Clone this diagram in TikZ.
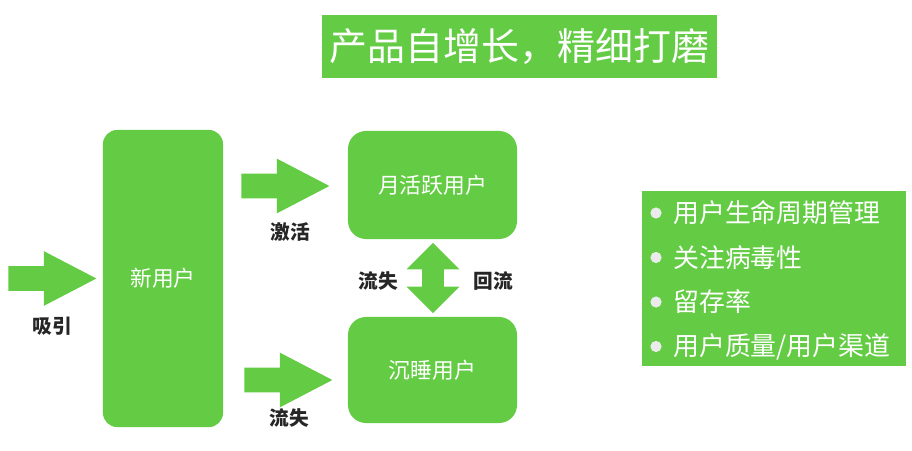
\documentclass[tikz,border=0pt]{standalone}
\usepackage{fontspec}
\setmainfont{Noto Sans CJK SC}
\usepackage{tikz}
\usetikzlibrary{shapes.arrows}
\definecolor{appgreen}{RGB}{99,204,68}

\begin{document}
\begin{tikzpicture}[
    x=0.025cm, y=-0.025cm,
    greenbox/.style={rectangle, fill=appgreen, draw=none, text=white, inner sep=0pt,
      align=center, font=\fontsize{15.5}{18}\selectfont},
    userbox/.style={greenbox, rounded corners=0.35cm},
    blockarrow/.style={single arrow, fill=appgreen, draw=none, anchor=tip,
      inner xsep=0pt, inner ysep=0.3cm, minimum height=2.2cm,
      single arrow head extend=0.375cm, single arrow tip angle=55,
      single arrow head indent=0pt},
    updown/.style={double arrow, fill=appgreen, draw=none, rotate=90,
      inner xsep=0pt, inner ysep=0.2625cm, minimum height=1.75cm,
      double arrow head extend=0.39cm, double arrow tip angle=90,
      double arrow head indent=0pt},
    label/.style={font=\fontsize{14}{16}\selectfont\bfseries, text=black!85},
    dot/.style={circle, fill=white!92!black, inner sep=0pt, minimum size=0.28cm},
    item/.style={anchor=west, inner sep=0pt, text=white, font=\fontsize{18.4}{21}\selectfont},
  ]
    \useasboundingbox (0,0) rectangle (912,451);

    \node[greenbox, minimum width=9.875cm, minimum height=1.575cm,
      font=\fontsize{27}{32}\selectfont] (title) at (519.5,46.5) {产品自增长，精细打磨};

    \node[userbox, minimum width=3cm, minimum height=7.425cm] (new) at (163,278.5) {新用户};
    \node[userbox, rounded corners=0.45cm, minimum width=4.225cm, minimum height=2.7cm]
      (active) at (432.5,185) {月活跃用户};
    \node[userbox, rounded corners=0.45cm, minimum width=4.225cm, minimum height=2.65cm]
      (sleep) at (432.5,370) {沉睡用户};

    % block arrows
    \node[blockarrow] (attract) at (97,278.5) {};
    \node[label] (attractlbl) at (52,326) {吸引};
    \node[blockarrow] (activate) at (330,186) {};
    \node[label] (activatelbl) at (290,232) {激活};
    \node[blockarrow] (churn) at (333,380) {};
    \node[label] (churnlbl) at (289,418) {流失};

    \node[updown] (flow) at (433,278) {};
    \node[label] (lostlbl) at (378,281) {流失};
    \node[label] (backlbl) at (493,281) {回流};

    % notes
    \node[greenbox, minimum width=6.6cm, minimum height=4.375cm] (notes) at (774,278.5) {};
    \foreach \t [count=\i] in {用户生命周期管理, 关注病毒性, 留存率, 用户质量/用户渠道} {
      \node[dot] (dot\i) at (656,{168.5+44.5*\i}) {};
      \node[item] (item\i) at (673,{168.5+44.5*\i}) {\t};
    }
  \end{tikzpicture}
\end{document}
